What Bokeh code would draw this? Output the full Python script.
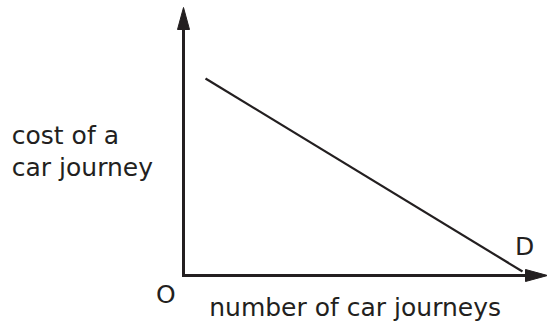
from bokeh.plotting import figure
from bokeh.models import Range1d, ColumnDataSource
from bokeh.core.properties import value
from bokeh.embed import file_html
from bokeh.resources import INLINE

# Demand line D (abstract units: quantity of car journeys vs cost)
quantity = [22, 339]
cost = [197, 4]

# axis extents
x_axis_end = 364
y_axis_end = 268

# labels
y_label_lines = ["cost of a", "car journey"]
x_label = "number of car journeys"
origin_label = "O"
curve_label = "D"

INK = "#231f20"
FONT = "DejaVu Sans"

p = figure(width=547, height=322, output_backend="svg", toolbar_location=None,
           x_range=Range1d(-183, 364), y_range=Range1d(-47, 275),
           x_axis_type=None, y_axis_type=None, min_border=0)
p.outline_line_color = None
p.grid.visible = False
p.background_fill_color = "white"
p.border_fill_color = "white"

head_len, head_half = 22, 6

# axes
p.segment(x0=[0, -1.5], y0=[0, 0], x1=[0, x_axis_end - head_len + 2], y1=[y_axis_end - head_len + 2, 0],
          line_color=INK, line_width=3)
p.patch(x=[0, -head_half, head_half], y=[y_axis_end, y_axis_end - head_len, y_axis_end - head_len],
        fill_color=INK, line_color=INK)
p.patch(x=[x_axis_end, x_axis_end - head_len, x_axis_end - head_len], y=[0, head_half, -head_half],
        fill_color=INK, line_color=INK)

# demand line
p.line(x=quantity, y=cost, line_color=INK, line_width=2.2)

# labels
src = ColumnDataSource(dict(
    x=[-171.7, -171.7, -27.4, 25.7, 331.5],
    y=[140, 108, -19, -32, 29],
    t=[y_label_lines[0], y_label_lines[1], origin_label, x_label, curve_label],
))
p.text(x="x", y="y", text="t", source=src, text_font=value(FONT), text_font_size="25px",
       text_color=INK, text_align="left", text_baseline="alphabetic")

open("out.html", "w").write(file_html(p, INLINE))
